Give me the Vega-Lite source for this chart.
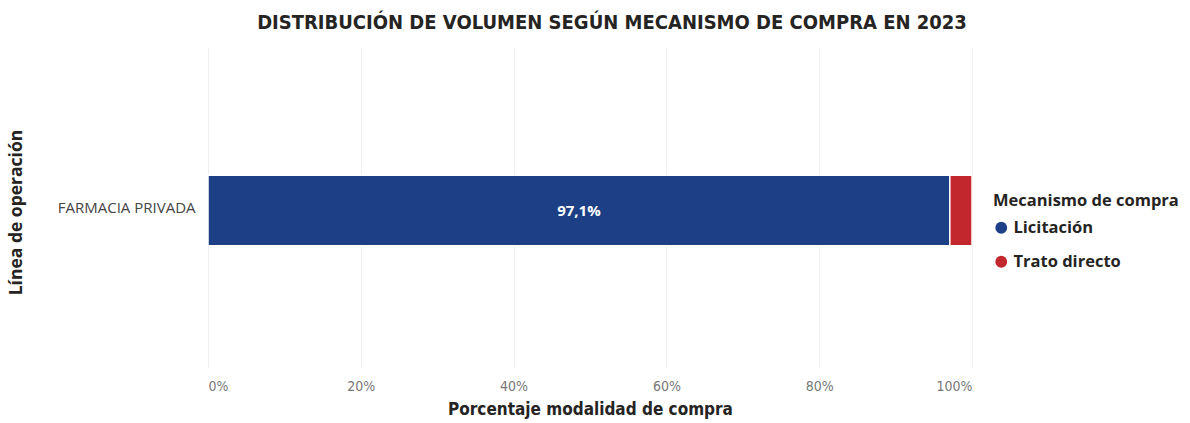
{
  "$schema": "https://vega.github.io/schema/vega-lite/v6.json",
  "width": 764,
  "height": 321,
  "autosize": "none",
  "padding": {"left": 208, "top": 47, "right": 218, "bottom": 55},
  "background": "white",
  "title": {
    "text": "DISTRIBUCIÓN DE VOLUMEN SEGÚN MECANISMO DE COMPRA EN 2023",
    "font": "Liberation Sans Narrow, DejaVu Sans Condensed",
    "fontSize": 20,
    "fontWeight": "bold",
    "color": "#252423",
    "anchor": "middle",
    "dx": 22,
    "offset": 14
  },
  "data": {
    "values": [
      {"linea": "FARMACIA PRIVADA", "mecanismo": "Licitación", "pct": 97.1, "etiqueta": "97,1%"},
      {"linea": "FARMACIA PRIVADA", "mecanismo": "Trato directo", "pct": 2.9, "etiqueta": ""}
    ]
  },
  "transform": [
    {"stack": "pct", "groupby": ["linea"], "as": ["p0", "p1"], "sort": [{"field": "mecanismo", "order": "ascending"}]}
  ],
  "config": {
    "view": {"stroke": null},
    "axis": {"domain": false, "ticks": false}
  },
  "encoding": {
    "y": {
      "field": "linea",
      "type": "nominal",
      "scale": {"paddingInner": 0, "paddingOuter": 1},
      "axis": {
        "title": "Línea de operación",
        "titleFont": "Open Sans",
        "titleFontSize": 17.5,
        "titleFontWeight": "bold",
        "titleColor": "#252423",
        "titleX": -183,
        "titleY": 165,
        "titleAngle": -90,
        "labelFont": "Open Sans",
        "labelFontSize": 15,
        "labelColor": "#444444",
        "labelPadding": 13,
        "grid": false
      }
    }
  },
  "layer": [
    {
      "mark": {"type": "bar", "stroke": "white", "strokeWidth": 1.5, "height": {"band": 0.66}, "yOffset": 3},
      "encoding": {
        "x": {
          "field": "p0",
          "type": "quantitative",
          "scale": {"domain": [0, 100], "nice": false},
          "axis": {
            "title": "Porcentaje modalidad de compra",
            "titleFont": "Liberation Sans Narrow, DejaVu Sans Condensed",
            "titleFontSize": 17,
            "titleFontWeight": "bold",
            "titleColor": "#252423",
            "titlePadding": 8,
            "values": [0, 20, 40, 60, 80, 100],
            "labelExpr": "datum.value + '%'",
            "labelFont": "Liberation Sans Narrow, DejaVu Sans Condensed",
            "labelFontSize": 14,
            "labelColor": "#777777",
            "labelPadding": 11,
            "grid": true,
            "gridColor": "#efefef",
            "gridWidth": 1
          }
        },
        "x2": {"field": "p1"},
        "color": {
          "field": "mecanismo",
          "type": "nominal",
          "scale": {"domain": ["Licitación", "Trato directo"], "range": ["#1d3f85", "#c1272d"]},
          "legend": {
            "title": "Mecanismo de compra",
            "orient": "none",
            "legendX": 785,
            "legendY": 146,
            "titleLimit": 400,
            "titleFont": "Open Sans",
            "titleFontSize": 16.5,
            "titleFontWeight": "bold",
            "titleColor": "#252423",
            "titlePadding": 10,
            "labelFont": "Open Sans",
            "labelFontSize": 16.5,
            "labelFontWeight": "bold",
            "labelColor": "#252423",
            "labelLimit": 300,
            "symbolType": "circle",
            "symbolSize": 140,
            "symbolStrokeWidth": 0,
            "rowPadding": 17,
            "labelOffset": 4
          }
        }
      }
    },
    {
      "transform": [
        {"filter": "datum.etiqueta != ''"},
        {"fold": ["p0", "p1"], "as": ["lado", "borde"]},
        {"aggregate": [{"op": "mean", "field": "borde", "as": "centro"}], "groupby": ["linea", "etiqueta"]}
      ],
      "mark": {"type": "text", "color": "white", "font": "Open Sans", "fontSize": 15, "fontWeight": "bold", "yOffset": 3},
      "encoding": {
        "x": {"field": "centro", "type": "quantitative"},
        "text": {"field": "etiqueta"}
      }
    }
  ]
}
